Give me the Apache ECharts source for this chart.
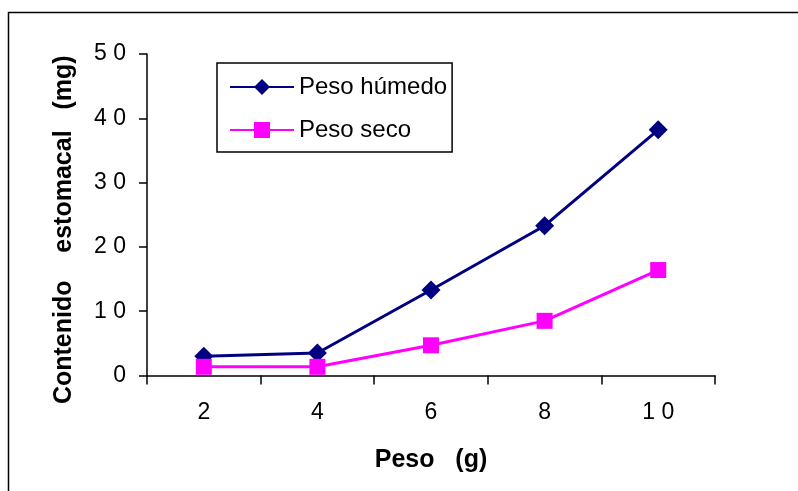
<!DOCTYPE html>
<html>
<head>
<meta charset="utf-8">
<script src="https://cdn.jsdelivr.net/npm/echarts@6/dist/echarts.min.js"></script>
<style>html,body{margin:0;padding:0;background:#fff}#c{width:798px;height:491px}</style>
</head>
<body>
<div id="c"></div>
<script>
var categories = ['2', '4', '6', '8', '10'];
var pesoHumedo = [3.0, 3.5, 13.3, 23.3, 38.2];
var pesoSeco = [1.35, 1.35, 4.7, 8.5, 16.4];
var yTicks = { min: 0, max: 50, interval: 10 };

function spaced(v) { return String(v).split('').join(' '); }

var chart = echarts.init(document.getElementById('c'), null, { renderer: 'canvas' });
var font = '"Liberation Sans", Arial, sans-serif';
chart.setOption({
  animation: false,
  backgroundColor: '#fff',
  graphic: [{
    type: 'rect', shape: { x: 8.5, y: 12.5, width: 800, height: 490 },
    style: { fill: 'none', stroke: '#000', lineWidth: 1.5 }, silent: true
  }],
  grid: { left: 147, right: 83, top: 54, bottom: 115.5 },
  legend: {
    left: 217, top: 63, orient: 'vertical', itemGap: 19,
    padding: [12, 5, 10, 12],
    itemWidth: 64, itemHeight: 20,
    borderColor: '#000', borderWidth: 1.5,
    textStyle: { fontFamily: font, fontSize: 24, color: '#000' },
    data: ['Peso húmedo', 'Peso seco']
  },
  xAxis: {
    type: 'category', data: categories, boundaryGap: true,
    name: 'Peso   (g)', nameLocation: 'middle', nameGap: 72,
    nameTextStyle: { fontFamily: font, fontSize: 25, fontWeight: 'bold', color: '#000' },
    axisLine: { lineStyle: { color: '#000', width: 1.5 } },
    axisTick: { show: true, length: 9, inside: false, alignWithLabel: false, lineStyle: { color: '#000', width: 1.5 } },
    axisLabel: { margin: 26, fontFamily: font, fontSize: 23, color: '#000', formatter: spaced },
    splitLine: { show: false }
  },
  yAxis: {
    type: 'value', min: yTicks.min, max: yTicks.max, interval: yTicks.interval,
    name: 'Contenido    estomacal   (mg)', nameLocation: 'middle', nameGap: 70,
    nameTextStyle: { fontFamily: font, fontSize: 25, fontWeight: 'bold', color: '#000', padding: [0, 30, 0, 0] },
    axisLine: { show: true, lineStyle: { color: '#000', width: 1.5 } },
    axisTick: { show: true, length: 8, lineStyle: { color: '#000', width: 1.5 } },
    axisLabel: { margin: 21, fontFamily: font, fontSize: 23, color: '#000', formatter: spaced },
    splitLine: { show: false }
  },
  series: [{
    name: 'Peso húmedo', type: 'line', data: pesoHumedo,
    symbol: 'diamond', symbolSize: 19, color: '#000080',
    lineStyle: { color: '#000080', width: 3 },
    itemStyle: { color: '#000080' }
  }, {
    name: 'Peso seco', type: 'line', data: pesoSeco,
    symbol: 'rect', symbolSize: 16, color: '#ff00ff',
    lineStyle: { color: '#ff00ff', width: 3 },
    itemStyle: { color: '#ff00ff' }
  }]
});
</script>
</body>
</html>
